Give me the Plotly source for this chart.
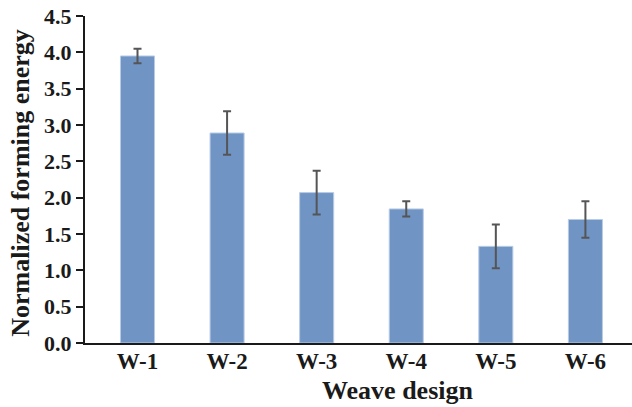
import plotly.graph_objects as go

categories = ["W-1", "W-2", "W-3", "W-4", "W-5", "W-6"]
values = [3.95, 2.89, 2.07, 1.845, 1.33, 1.70]
errors = [0.10, 0.30, 0.30, 0.105, 0.30, 0.25]
y_ticks = [0, 0.5, 1.0, 1.5, 2.0, 2.5, 3.0, 3.5, 4.0, 4.5]

FONT = "Liberation Serif"

fig = go.Figure()
fig.add_trace(go.Bar(
    x=categories,
    y=values,
    width=0.38,
    marker=dict(color="#7094C4", line=dict(color="#B8CBE6", width=1)),
    error_y=dict(type="data", array=errors, visible=True,
                 color="#555555", thickness=2, width=4),
))

fig.update_layout(
    width=632, height=407,
    margin=dict(l=85, r=0, t=16, b=64),
    plot_bgcolor="white", paper_bgcolor="white",
    showlegend=False,
    font=dict(family=FONT, color="#1a1a1a"),
)
fig.update_xaxes(
    range=[-0.586, 5.52], automargin=False,
    showline=True, linecolor="#1a1a1a", linewidth=2,
    ticks="", showgrid=False, zeroline=False,
    ticklabelstandoff=-4,
    tickfont=dict(family=FONT, size=23, color="#1a1a1a", weight="bold"),
)
fig.update_yaxes(
    range=[0, 4.5], automargin=False,
    tickvals=y_ticks, tickformat=".1f",
    showline=True, linecolor="#1a1a1a", linewidth=2,
    ticks="outside", ticklen=7, tickwidth=1.5, tickcolor="#1a1a1a",
    showgrid=False, zeroline=False,
    tickfont=dict(family=FONT, size=22, color="#1a1a1a", weight="bold"),
)
fig.add_annotation(
    text="<b>Normalized forming energy</b>", xref="paper", yref="paper",
    x=-0.117, y=0.49, xanchor="center", yanchor="middle", textangle=-90,
    showarrow=False, font=dict(family=FONT, size=26, color="#1a1a1a"),
)
fig.add_annotation(
    text="<b>Weave design</b>", xref="paper", yref="paper",
    x=0.571, y=0, yshift=-47, xanchor="center", yanchor="middle",
    showarrow=False, font=dict(family=FONT, size=26, color="#1a1a1a"),
)

fig.write_html("out.html", config={"displayModeBar": False},
               post_script="document.body.style.margin='0';document.body.style.overflow='hidden';")
